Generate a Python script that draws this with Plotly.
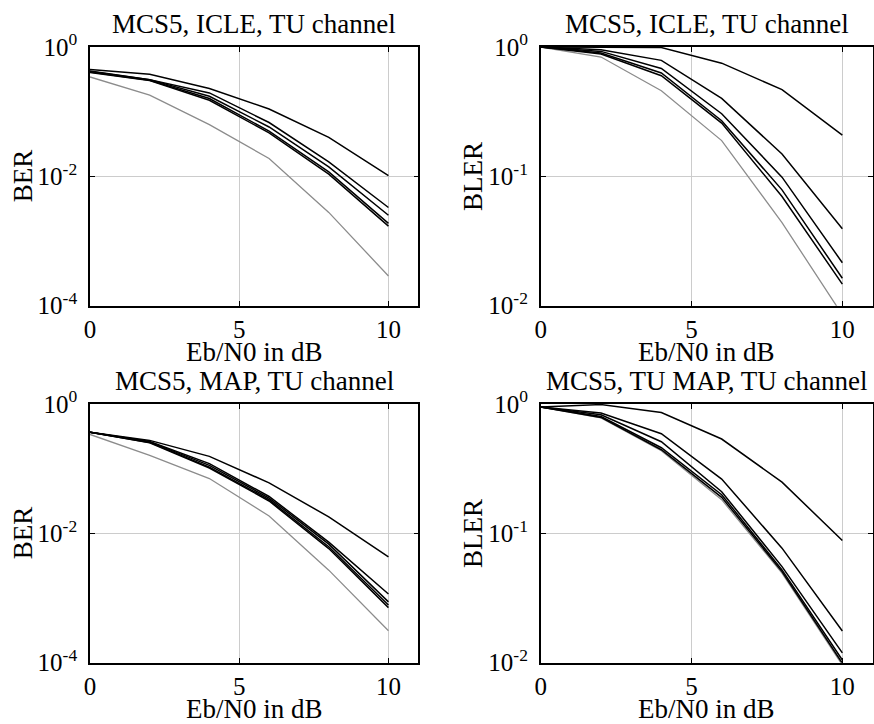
import plotly.graph_objects as go

ebn0 = [0, 2, 4, 6, 8, 10]

# Panel 1: BER, ICLE
ber_icle_black = [
    [0.45, 0.378, 0.228, 0.110, 0.040, 0.0103],
    [0.426, 0.313, 0.195, 0.068, 0.0168, 0.0033],
    [0.42, 0.313, 0.173, 0.058, 0.014, 0.0025],
    [0.41, 0.306, 0.160, 0.050, 0.0117, 0.00187],
    [0.405, 0.302, 0.150, 0.047, 0.0108, 0.0017],
]
ber_icle_gray = [0.344, 0.18, 0.063, 0.0189, 0.00277, 0.000288]

# Panel 2: BLER, ICLE
bler_icle_black = [
    [1.0, 1.0, 0.99, 0.75, 0.468, 0.208],
    [1.0, 0.953, 0.788, 0.40, 0.149, 0.0394],
    [1.0, 0.925, 0.683, 0.305, 0.0986, 0.0215],
    [1.0, 0.90, 0.63, 0.269, 0.0786, 0.0163],
    [1.0, 0.883, 0.60, 0.258, 0.0698, 0.0147],
]
bler_icle_gray = [1.0, 0.837, 0.459, 0.189, 0.0439, 0.0085]

# Panel 3: BER, MAP
ber_map_black = [
    [0.365, 0.272, 0.154, 0.060, 0.0179, 0.00431],
    [0.365, 0.262, 0.119, 0.037, 0.0073, 0.00115],
    [0.365, 0.258, 0.112, 0.035, 0.0068, 0.00087],
    [0.365, 0.253, 0.105, 0.033, 0.0062, 0.00078],
    [0.365, 0.250, 0.102, 0.0315, 0.0058, 0.00071],
]
ber_map_gray = [0.336, 0.16, 0.070, 0.0185, 0.00269, 0.000312]

# Panel 4: BLER, TU MAP
bler_tumap_black = [
    [0.948, 0.99, 0.86, 0.536, 0.249, 0.088],
    [0.948, 0.851, 0.589, 0.263, 0.0768, 0.0176],
    [0.948, 0.826, 0.511, 0.21, 0.0553, 0.0119],
    [0.948, 0.80, 0.459, 0.199, 0.0522, 0.0105],
    [0.948, 0.787, 0.443, 0.19, 0.0506, 0.0099],
]
bler_tumap_gray = [0.948, 0.78, 0.435, 0.182, 0.0492, 0.0096]

titles = ["MCS5, ICLE, TU channel", "MCS5, ICLE, TU channel",
          "MCS5, MAP, TU channel", "MCS5, TU MAP, TU channel"]
ylabels = ["BER", "BLER", "BER", "BLER"]
xlabel = "Eb/N0 in dB"
xticks = [0, 5, 10]

W, H = 874, 724
FONT = "Liberation Serif"
FS = 27
TFS = 25

panels = [
    (ber_icle_black, ber_icle_gray, -4, 2),
    (bler_icle_black, bler_icle_gray, -2, 1),
    (ber_map_black, ber_map_gray, -4, 2),
    (bler_tumap_black, bler_tumap_gray, -2, 1),
]

# pixel boxes: (left, right, top, bottom)
boxes = [
    (90, 418.3, 47, 305.7),
    (540.7, 872.5, 47, 305.7),
    (90, 418.3, 403.8, 662.7),
    (540.7, 872.5, 404, 662.7),
]

fig = go.Figure()
layout = dict(
    template="none",
    width=W, height=H, margin=dict(l=0, r=0, t=0, b=0, autoexpand=False),
    paper_bgcolor="white", plot_bgcolor="white", showlegend=False,
    font=dict(family=FONT, size=TFS, color="black"),
)
annotations = []

for i, ((blacks, gray, ymin, dt), box) in enumerate(zip(panels, boxes)):
    n = i + 1
    xa = "x" if n == 1 else f"x{n}"
    ya = "y" if n == 1 else f"y{n}"
    fig.add_trace(go.Scatter(x=ebn0, y=gray, mode="lines",
                             line=dict(color="#8c8c8c", width=1.3),
                             xaxis=xa, yaxis=ya, hoverinfo="skip"))
    for s in blacks:
        fig.add_trace(go.Scatter(x=ebn0, y=s, mode="lines",
                                 line=dict(color="black", width=1.5),
                                 xaxis=xa, yaxis=ya, hoverinfo="skip"))
    l, r, t, b = box
    xdom = [l / W, r / W]
    ydom = [1 - b / H, 1 - t / H]
    yvals = [10 ** e for e in range(ymin, 1, dt)]
    ytext = [f"10<sup>{e}</sup>" for e in range(ymin, 1, dt)]
    layout["xaxis" if n == 1 else f"xaxis{n}"] = dict(
        domain=xdom, anchor=ya, range=[0, 11], automargin=False,
        tickvals=xticks, ticktext=[str(v) for v in xticks],
        ticks="inside", ticklen=5, tickcolor="black", tickwidth=1,
        showline=True, mirror="ticks", linecolor="black", linewidth=1.6,
        showgrid=True, gridcolor="#cccccc", gridwidth=1, zeroline=False,
        tickfont=dict(family=FONT, size=TFS, color="black"),
    )
    layout["yaxis" if n == 1 else f"yaxis{n}"] = dict(
        domain=ydom, anchor=xa, type="log", range=[ymin, 0], automargin=False,
        tickvals=yvals, ticktext=ytext,
        ticks="inside", ticklen=5, tickcolor="black", tickwidth=1,
        showline=True, mirror="ticks", linecolor="black", linewidth=1.6,
        showgrid=True, gridcolor="#cccccc", gridwidth=1, zeroline=False,
        tickfont=dict(family=FONT, size=TFS, color="black"), ticklabelstandoff=6,
    )
    cx = (l + r) / 2
    # title
    annotations.append(dict(text=titles[i], x=cx / W, y=1 - (t - 6) / H,
                            xref="paper", yref="paper", xanchor="center",
                            yanchor="bottom", showarrow=False,
                            font=dict(family=FONT, size=FS, color="black")))
    # x label
    annotations.append(dict(text=xlabel, x=cx / W, y=1 - (b + 29) / H,
                            xref="paper", yref="paper", xanchor="center",
                            yanchor="top", showarrow=False,
                            font=dict(family=FONT, size=FS, color="black")))
    # y label
    annotations.append(dict(text=ylabels[i], x=(l - 50) / W, y=1 - ((t + b) / 2) / H,
                            xref="paper", yref="paper", xanchor="right",
                            yanchor="middle", textangle=-90, showarrow=False,
                            font=dict(family=FONT, size=FS, color="black")))

layout["annotations"] = annotations
fig.update_layout(**layout)
fig.write_html("out.html", config={"displayModeBar": False},
               post_script="document.body.style.margin='0';document.body.style.overflow='hidden';")
